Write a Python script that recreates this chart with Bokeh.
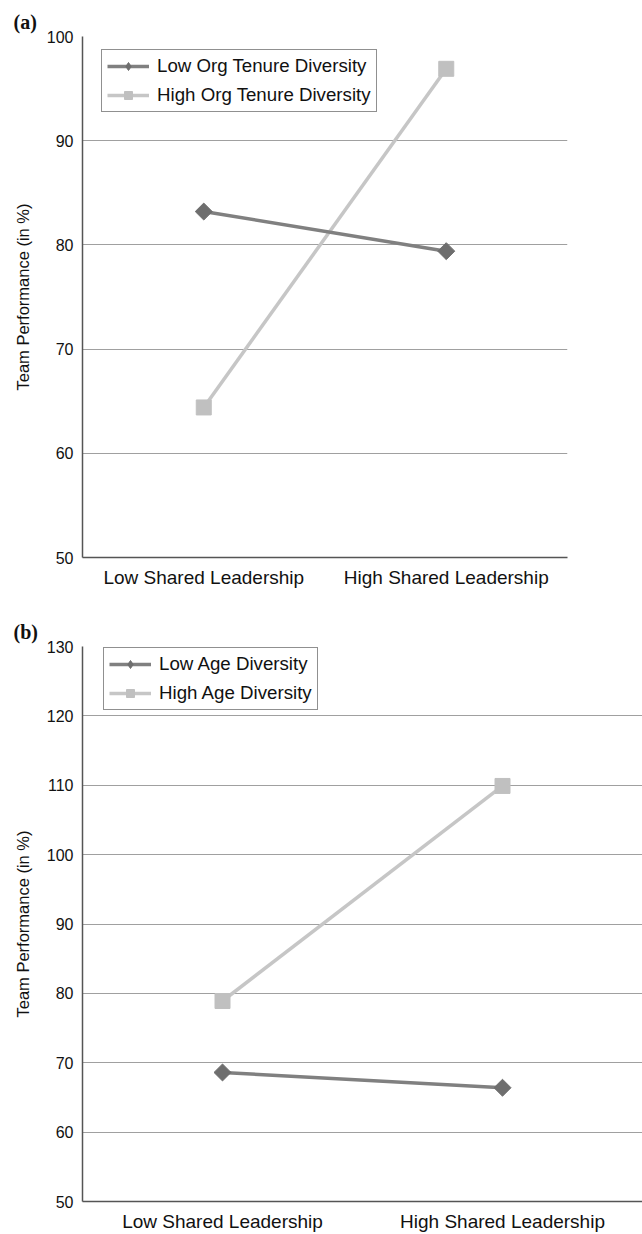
from bokeh.plotting import figure
from bokeh.models import (Range1d, FactorRange, FixedTicker, Legend, LegendItem,
                          ColumnDataSource)
from bokeh.embed import file_html
from bokeh.resources import INLINE
import math

# ---------------- data ----------------
leadership = ["Low Shared Leadership", "High Shared Leadership"]

a_low_org_tenure = [83.2, 79.4]
a_high_org_tenure = [64.4, 96.9]
a_series_names = ["Low Org Tenure Diversity", "High Org Tenure Diversity"]
a_yticks = [50, 60, 70, 80, 90, 100]

b_low_age = [68.6, 66.4]
b_high_age = [78.9, 109.9]
b_series_names = ["Low Age Diversity", "High Age Diversity"]
b_yticks = [50, 60, 70, 80, 90, 100, 110, 120, 130]

# ---------------- styles ----------------
FONT = "Liberation Sans"
DARK_LINE = "#808080"
DARK_MARK = "#6e6e6e"
LIGHT_LINE = "#c6c6c6"
LIGHT_MARK = "#c0c0c0"
GRID = "#a0a0a0"
AXIS = "#555555"
LEGEND_H = 60


def make_panel(tag, low, high, names, yticks, width, height, border_top,
               border_bottom, border_right, x_end, legend_top_off, legend_left_off):
    p = figure(x_range=FactorRange(*leadership, start=0, end=x_end),
               y_range=Range1d(yticks[0], yticks[-1]),
               width=width, height=height, output_backend="svg",
               toolbar_location=None, min_border_left=82,
               min_border_right=border_right, min_border_top=border_top,
               min_border_bottom=border_bottom)
    p.outline_line_color = None
    p.background_fill_color = "white"
    p.border_fill_color = "white"

    p.title.text = tag
    p.title.text_font = "Liberation Serif"
    p.title.text_font_style = "bold"
    p.title.text_font_size = "20px"
    p.title.text_color = "#111111"
    p.title.align = "left"
    p.title.offset = -69
    p.title.standoff = 8

    p.xgrid.visible = False
    p.ygrid.ticker = FixedTicker(ticks=yticks)
    p.ygrid.grid_line_color = GRID
    p.ygrid.grid_line_width = 1

    p.yaxis.ticker = FixedTicker(ticks=yticks)
    p.yaxis.axis_label = "Team Performance (in %)"
    p.yaxis.axis_label_text_font = FONT
    p.yaxis.axis_label_text_font_style = "normal"
    p.yaxis.axis_label_text_font_size = "16.5px"
    p.yaxis.axis_label_text_color = "#111111"
    p.yaxis.axis_label_standoff = 12
    p.yaxis.major_label_text_font = FONT
    p.yaxis.major_label_text_font_size = "16px"
    p.yaxis.major_label_text_color = "#111111"
    p.yaxis.major_label_standoff = 9
    p.xaxis.major_label_text_font = FONT
    p.xaxis.major_label_text_font_size = "19px"
    p.xaxis.major_label_text_color = "#111111"
    p.xaxis.major_label_standoff = 9
    for ax in (p.xaxis, p.yaxis):
        ax.axis_line_color = AXIS
        ax.axis_line_width = 1.5
        ax.major_tick_in = 0
        ax.major_tick_out = 0
        ax.minor_tick_in = 0
        ax.minor_tick_out = 0

    src_low = ColumnDataSource(dict(x=leadership, y=low))
    src_high = ColumnDataSource(dict(x=leadership, y=high))

    lh = p.line("x", "y", source=src_high, line_color=LIGHT_LINE, line_width=3.5)
    sh = p.scatter("x", "y", source=src_high, marker="square", size=15,
                   fill_color=LIGHT_MARK, line_color=LIGHT_MARK)
    ll = p.line("x", "y", source=src_low, line_color=DARK_LINE, line_width=3.5)
    p.scatter("x", "y", source=src_low, marker="square", size=12,
              angle=math.pi / 4, fill_color=DARK_MARK, line_color=DARK_MARK)
    # legend-only key glyph (diamond), its single point is not drawn (NaN)
    sl_key = p.scatter(x=[leadership[0]], y=[float("nan")], marker="diamond",
                       size=15, fill_color=DARK_MARK, line_color=DARK_MARK)

    legend = Legend(items=[LegendItem(label=names[0], renderers=[ll, sl_key]),
                           LegendItem(label=names[1], renderers=[lh, sh])])
    frame_h = height - border_top - border_bottom
    legend.location = (legend_left_off, frame_h - legend_top_off - LEGEND_H)
    legend.border_line_color = "#222222"
    legend.border_line_width = 1
    legend.background_fill_color = "white"
    legend.background_fill_alpha = 1
    legend.label_text_font = FONT
    legend.label_text_font_size = "18.7px"
    legend.label_text_color = "#111111"
    legend.glyph_width = 42
    legend.glyph_height = 20
    legend.label_standoff = 8
    legend.padding = 5
    legend.spacing = 7
    legend.margin = 0
    p.add_layout(legend, "center")
    return p


pa = make_panel("(a)", a_low_org_tenure, a_high_org_tenure, a_series_names, a_yticks,
                width=642, height=600, border_top=36, border_bottom=43,
                border_right=75, x_end=2.0, legend_top_off=16, legend_left_off=19)
pb = make_panel("(b)", b_low_age, b_high_age, b_series_names, b_yticks,
                width=642, height=634, border_top=46, border_bottom=28,
                border_right=0, x_end=1.977, legend_top_off=9, legend_left_off=21)

open("out.html", "w").write(file_html([pa, pb], INLINE))
